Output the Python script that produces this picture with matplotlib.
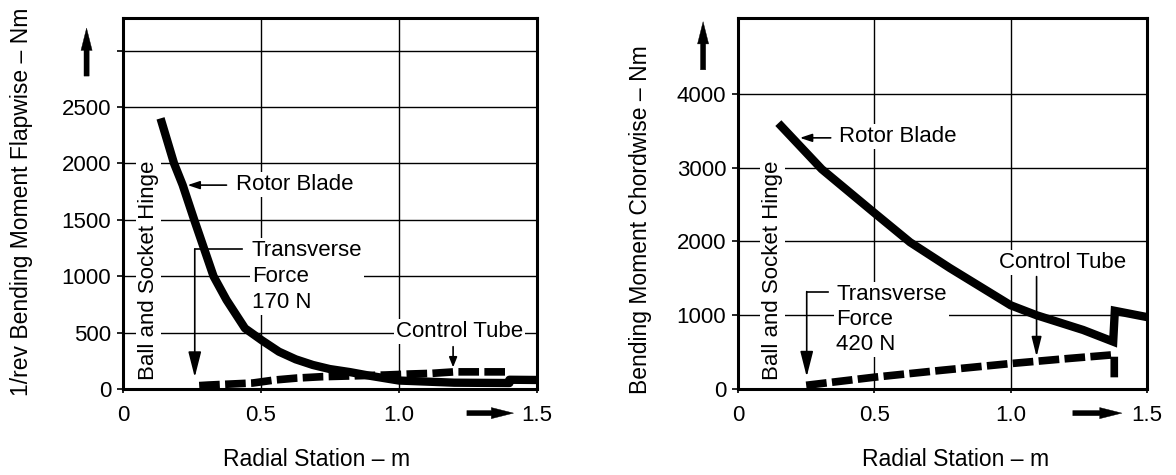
import matplotlib
matplotlib.use('Agg')
import matplotlib.pyplot as plt

plt.rcParams['font.family'] = ['Liberation Sans', 'DejaVu Sans']

# ---------------- data ----------------
x_ticks = [0, 0.5, 1.0, 1.5]
x_tick_labels = ['0', '0.5', '1.0', '1.5']

# Left: flapwise
flap_y_ticks = [0, 500, 1000, 1500, 2000, 2500, 3000]
flap_y_labels = ['0', '500', '1000', '1500', '2000', '2500', '']
flap_blade_r = [0.136, 0.185, 0.216, 0.258, 0.328, 0.375, 0.442, 0.504, 0.565, 0.626, 0.688,
                0.749, 0.822, 0.90, 1.0, 1.2, 1.40, 1.40, 1.5]
flap_blade_m = [2400, 2000, 1810, 1500, 1000, 790, 538, 430, 331, 263, 213,
                177, 150, 115, 75, 56, 53, 82, 80]
flap_tube_r = [0.276, 0.31, 0.47, 0.55, 0.63, 0.72, 0.95, 1.04, 1.12, 1.20, 1.40]
flap_tube_m = [30, 35, 53, 80, 97, 109, 124, 133, 139, 152, 152]

# Right: chordwise
chord_y_ticks = [0, 1000, 2000, 3000, 4000]
chord_y_labels = ['0', '1000', '2000', '3000', '4000']
chord_blade_r = [0.148, 0.307, 0.496, 0.631, 0.777, 1.0, 1.095, 1.266, 1.376, 1.382, 1.5]
chord_blade_m = [3605, 2981, 2400, 1990, 1640, 1135, 1000, 800, 642, 1060, 975]
chord_tube_r = [0.25, 0.5, 0.75, 1.0, 1.2, 1.38, 1.38]
chord_tube_m = [50, 160, 255, 345, 410, 465, 90]

FS = 16
white = dict(facecolor='white', edgecolor='none', pad=1.5)

fig = plt.figure(figsize=(11.76, 4.75), dpi=100)
ax1 = fig.add_axes([123 / 1176, 86 / 475, 414 / 1176, 371 / 475])
ax2 = fig.add_axes([738 / 1176, 86 / 475, 409 / 1176, 371 / 475])


def style(ax, ymax, yticks, ylabels):
    ax.set_xlim(0, 1.5)
    ax.set_ylim(0, ymax)
    ax.set_xticks(x_ticks)
    ax.set_xticklabels(x_tick_labels)
    ax.set_yticks(yticks)
    ax.set_yticklabels(ylabels)
    ax.grid(True, color='black', lw=1.0)
    ax.set_axisbelow(True)
    for s in ax.spines.values():
        s.set_linewidth(2.2)
    ax.tick_params(axis='y', direction='out', length=4.5, width=1.2, pad=4, labelsize=FS)
    ax.tick_params(axis='x', direction='out', length=3, width=1.2, pad=8.5, labelsize=FS)


style(ax1, 3290, flap_y_ticks, flap_y_labels)
style(ax2, 5030, chord_y_ticks, chord_y_labels)


def thin_arrow(ax, xy, xytext, hl=0.6, hw=0.2):
    ax.annotate('', xy=xy, xytext=xytext,
                arrowprops=dict(arrowstyle='-|>,head_length=%g,head_width=%g' % (hl, hw),
                                lw=1.2, color='black', mutation_scale=12,
                                shrinkA=0, shrinkB=0),
                zorder=5, annotation_clip=False)


def bold_arrow(ax, xy, xytext, coords='data'):
    ax.annotate('', xy=xy, xytext=xytext, xycoords=coords, textcoords=coords,
                arrowprops=dict(arrowstyle='simple,head_length=1.6,head_width=0.8,tail_width=0.37',
                                mutation_scale=10, fc='black', ec='black', lw=0.3,
                                shrinkA=0, shrinkB=0),
                annotation_clip=False, zorder=5)


BLADE_LW = 6
TUBE_LW = 5.5
TUBE_DASH = (2.7, 0.7)

# ---- left panel ----
ax1.plot(flap_blade_r, flap_blade_m, color='black', lw=BLADE_LW, solid_joinstyle='round',
         solid_capstyle='butt', zorder=4)
ax1.plot(flap_tube_r, flap_tube_m, color='black', lw=TUBE_LW, dashes=TUBE_DASH,
         dash_capstyle='butt', zorder=4)

ax1.text(0.092, 80, 'Ball and Socket Hinge', rotation=90, ha='center', va='bottom',
         fontsize=FS, bbox=white, zorder=3)
ax1.text(0.41, 1810, 'Rotor Blade', ha='left', va='center', fontsize=FS, bbox=white, zorder=3)
thin_arrow(ax1, (0.234, 1808), (0.375, 1808))
ax1.text(0.467, 1000, 'Transverse\nForce\n170 N', ha='left', va='center', fontsize=FS,
         linespacing=1.3, bbox=white, zorder=3)
ax1.plot([0.43, 0.26], [1241, 1241], color='black', lw=1.2, zorder=5)
thin_arrow(ax1, (0.26, 105), (0.26, 1241), hl=1.3, hw=0.33)
ax1.text(1.22, 508, 'Control Tube', ha='center', va='center', fontsize=FS, bbox=white, zorder=3)
thin_arrow(ax1, (1.196, 192), (1.196, 375), hl=0.5, hw=0.2)
bold_arrow(ax1, (-0.132, 3200), (-0.132, 2775))
bold_arrow(ax1, (1.415, -0.065), (1.246, -0.065), coords=ax1.get_xaxis_transform())

# ---- right panel ----
ax2.plot(chord_blade_r, chord_blade_m, color='black', lw=BLADE_LW, solid_joinstyle='miter',
         solid_capstyle='butt', zorder=4)
ax2.plot(chord_tube_r, chord_tube_m, color='black', lw=TUBE_LW, dashes=TUBE_DASH,
         dash_capstyle='butt', zorder=4)

ax2.text(0.128, 122, 'Ball and Socket Hinge', rotation=90, ha='center', va='bottom',
         fontsize=FS, bbox=white, zorder=3)
ax2.text(0.372, 3430, 'Rotor Blade', ha='left', va='center', fontsize=FS, bbox=white, zorder=3)
thin_arrow(ax2, (0.227, 3405), (0.34, 3405))
ax2.text(0.36, 945, 'Transverse\nForce\n420 N', ha='left', va='center', fontsize=FS,
         linespacing=1.25, bbox=white, zorder=3)
ax2.plot([0.331, 0.252], [1320, 1320], color='black', lw=1.2, zorder=5)
thin_arrow(ax2, (0.252, 167), (0.252, 1320), hl=1.3, hw=0.33)
ax2.text(1.19, 1714, 'Control Tube', ha='center', va='center', fontsize=FS, bbox=white, zorder=3)
thin_arrow(ax2, (1.095, 438), (1.095, 1524), hl=1.0, hw=0.25)
bold_arrow(ax2, (-0.128, 4980), (-0.128, 4328))
bold_arrow(ax2, (1.408, -0.065), (1.228, -0.065), coords=ax2.get_xaxis_transform())

# ---- axis titles ----
fig.text(317 / 1176, 1 - 460 / 475, 'Radial Station – m', ha='center', va='center', fontsize=16.5)
fig.text(956 / 1176, 1 - 460 / 475, 'Radial Station – m', ha='center', va='center', fontsize=16.5)
fig.text(22 / 1176, 1 - 202 / 475, '1/rev Bending Moment Flapwise – Nm', rotation=90,
         ha='center', va='center', fontsize=16.5)
fig.text(640 / 1176, 1 - 220 / 475, 'Bending Moment Chordwise – Nm', rotation=90,
         ha='center', va='center', fontsize=16.5)

fig.savefig('out.png', dpi=100)
